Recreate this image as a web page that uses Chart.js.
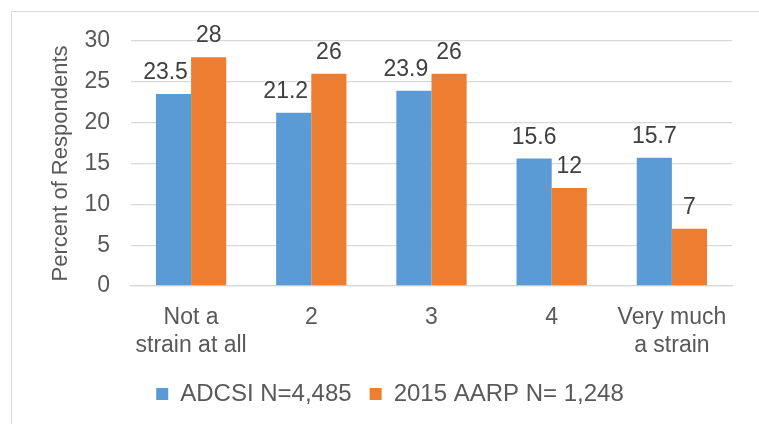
<!DOCTYPE html>
<html>
<head>
<meta charset="utf-8">
<script src="https://cdn.jsdelivr.net/npm/chart.js@4"></script>
<style>
  html, body { margin: 0; padding: 0; overflow: hidden; background: #fff; }
  #frame { position: absolute; left: 11px; top: 11px; width: 800px; height: 500px; border: 1px solid #d9d9d9; }
  #wrap { position: absolute; left: 0; top: 0; width: 759px; height: 424px; }
</style>
</head>
<body>
<div id="frame"></div>
<div id="wrap"><canvas id="chart"></canvas></div>
<script>
const categories = [["Not a", "strain at all"], "2", "3", "4", ["Very much", "a strain"]];
const adcsiValues = [23.5, 21.2, 23.9, 15.6, 15.7];
const aarpValues = [28, 26, 26, 12, 7];
const seriesLabels = ["ADCSI N=4,485", "2015 AARP N= 1,248"];
const yTicks = [0, 5, 10, 15, 20, 25, 30];

const FONT = "'Liberation Sans', Arial, sans-serif";
const PAD_LEFT = 48;

// labels above each bar, the blue one nudged left when the orange one sits at the same height
const barLabels = {
  id: "barLabels",
  afterDatasetsDraw(chart) {
    const ctx = chart.ctx;
    ctx.save();
    ctx.font = "23px " + FONT;
    ctx.fillStyle = "#404040";
    ctx.textAlign = "center";
    ctx.textBaseline = "alphabetic";
    const m0 = chart.getDatasetMeta(0);
    const m1 = chart.getDatasetMeta(1);
    m0.data.forEach((bar, i) => {
      const other = m1.data[i];
      let x = bar.x;
      if (other.y < bar.y && bar.y - other.y < 40) x -= 8;
      ctx.fillText(String(chart.data.datasets[0].data[i]), x, bar.y - 15);
    });
    m1.data.forEach((bar, i) => {
      ctx.fillText(String(chart.data.datasets[1].data[i]), bar.x, bar.y - 15);
    });
    ctx.restore();
  },
};

new Chart(document.getElementById("chart"), {
  type: "bar",
  data: {
    labels: categories,
    datasets: [
      {
        label: seriesLabels[0],
        data: adcsiValues,
        backgroundColor: "#5b9bd5",
        categoryPercentage: 0.585,
        barPercentage: 1,
      },
      {
        label: seriesLabels[1],
        data: aarpValues,
        backgroundColor: "#ed7d31",
        categoryPercentage: 0.585,
        barPercentage: 1,
      },
    ],
  },
  options: {
    animation: false,
    responsive: true,
    maintainAspectRatio: false,
    layout: {
      padding: { left: PAD_LEFT, right: 27, top: 41, bottom: 8 },
    },
    plugins: {
      legend: {
        position: "bottom",
        labels: {
          boxWidth: 12,
          boxHeight: 12,
          padding: 18,
          color: "#595959",
          font: { family: FONT, size: 24 },
        },
      },
      tooltip: { enabled: false },
    },
    scales: {
      y: {
        min: 0,
        max: 30,
        afterBuildTicks: (scale) => {
          scale.ticks = yTicks.map((v) => ({ value: v }));
        },
        afterFit: (scale) => {
          scale.width = 131 - PAD_LEFT;
        },
        border: { display: false },
        grid: { color: "#d9d9d9", lineWidth: 1.3, drawTicks: false },
        ticks: {
          padding: 21,
          color: "#595959",
          font: { family: FONT, size: 23 },
        },
        title: {
          display: true,
          text: "Percent of Respondents",
          color: "#595959",
          font: { family: FONT, size: 22 },
          padding: { top: 0, bottom: 0 },
        },
      },
      x: {
        afterFit: (scale) => {
          scale.height = 78;
        },
        border: { color: "#d9d9d9", width: 1.3 },
        grid: { display: false, drawTicks: false },
        ticks: {
          padding: 17,
          color: "#595959",
          maxRotation: 0,
          font: { family: FONT, size: 23, lineHeight: 1.25 },
        },
      },
    },
  },
  plugins: [barLabels],
});
</script>
</body>
</html>
